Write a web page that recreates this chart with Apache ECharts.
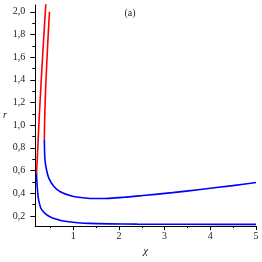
<!DOCTYPE html>
<html>
<head>
<meta charset="utf-8">
<script src="https://cdn.jsdelivr.net/npm/echarts@6/dist/echarts.min.js"></script>
<style>
html,body{margin:0;padding:0;background:#fff;}
#chart{width:262px;height:262px;}
</style>
</head>
<body>
<div id="chart"></div>
<script>
// Tick values
var xMajorTicks = [1, 2, 3, 4, 5];
var xMinorTicks = [0.5, 1.5, 2.5, 3.5, 4.5];
var yMajorTicks = [0.2, 0.4, 0.6, 0.8, 1.0, 1.2, 1.4, 1.6, 1.8, 2.0];
var yMinorTicks = [0.3, 0.5, 0.7, 0.9, 1.1, 1.3, 1.5, 1.7, 1.9];

// Curves (chi, r)
var redLeftX = [0.197, 0.22, 0.242, 0.28, 0.32, 0.36, 0.40, 0.41];
var redLeftY = [0.575, 0.76, 0.953, 1.25, 1.536, 1.81, 2.06, 2.12];

var redRightX = [0.368, 0.371, 0.38, 0.397, 0.42, 0.45, 0.481];
var redRightY = [0.874, 0.97, 1.12, 1.33, 1.536, 1.78, 2.0];

var blueUpperX = [0.368, 0.38, 0.41, 0.466, 0.573, 0.716, 0.966, 1.32, 1.6, 2.1, 2.53, 3.17, 3.78, 4.49, 5.0];
var blueUpperY = [0.874, 0.703, 0.618, 0.533, 0.461, 0.413, 0.376, 0.356, 0.353, 0.364, 0.38, 0.405, 0.433, 0.467, 0.495];

var blueLowerX = [0.197, 0.205, 0.218, 0.235, 0.26, 0.29, 0.33, 0.40, 0.5, 0.6, 0.75, 0.9, 1.1, 1.35, 1.8, 2.4, 3.5, 5.0];
var blueLowerY = [0.575, 0.50, 0.43, 0.36, 0.31, 0.27, 0.245, 0.215, 0.19, 0.174, 0.158, 0.148, 0.140, 0.134, 0.130, 0.127, 0.126, 0.125];

function pairs(xs, ys) { return xs.map(function (x, i) { return [x, ys[i]]; }); }

var font = "'Liberation Serif', 'Times New Roman', serif";
var chart = echarts.init(document.getElementById('chart'));
var lineSeries = function (name, xs, ys, color) {
  return {
    name: name, type: 'line', data: pairs(xs, ys), smooth: 0.25, showSymbol: false, symbol: 'none',
    lineStyle: { color: color, width: 1.6 }, clip: true, animation: false
  };
};
chart.setOption({
  animation: false,
  grid: { left: 30, right: 6, top: 5, bottom: 28.3 },
  xAxis: [{
    type: 'value', min: 0.17, max: 5,
    name: 'χ', nameLocation: 'middle', nameGap: 15,
    nameTextStyle: { fontFamily: font, fontStyle: 'italic', fontSize: 11, color: '#222' },
    axisLine: { lineStyle: { color: '#000', width: 1 } },
    axisTick: { show: true, customValues: xMajorTicks, length: 4, lineStyle: { color: '#000' } },
    axisLabel: { customValues: xMajorTicks, margin: 5, fontFamily: font, fontSize: 10, color: '#222', formatter: function (v) { return String(v); } },
    splitLine: { show: false }
  }, {
    type: 'value', min: 0.17, max: 5, position: 'bottom',
    axisLine: { show: false },
    axisTick: { show: true, customValues: xMinorTicks, length: 2, lineStyle: { color: '#000' } },
    axisLabel: { show: false }, splitLine: { show: false }
  }],
  yAxis: [{
    type: 'value', min: 0.11, max: 2.06,
    name: 'r', nameLocation: 'middle', nameGap: 22, nameRotate: 0,
    nameTextStyle: { fontFamily: font, fontStyle: 'italic', fontSize: 10, color: '#222' },
    axisLine: { show: true, lineStyle: { color: '#000', width: 1 } },
    axisTick: { show: true, customValues: yMajorTicks, length: 5, lineStyle: { color: '#000' } },
    axisLabel: { customValues: yMajorTicks, margin: 10, fontFamily: font, fontSize: 10, color: '#222', formatter: function (v) { return v.toFixed(1).replace('.', ','); } },
    splitLine: { show: false }
  }, {
    type: 'value', min: 0.11, max: 2.06, position: 'left',
    axisLine: { show: false },
    axisTick: { show: true, customValues: yMinorTicks, length: 3, lineStyle: { color: '#000' } },
    axisLabel: { show: false }, splitLine: { show: false }
  }],
  graphic: [{
    type: 'text', x: 130, y: 13,
    style: { text: '(a)', fontFamily: font, fontSize: 10, fill: '#222', align: 'center', verticalAlign: 'middle' }
  }],
  series: [
    lineSeries('redLeft', redLeftX, redLeftY, '#ff0000'),
    lineSeries('redRight', redRightX, redRightY, '#ff0000'),
    lineSeries('blueUpper', blueUpperX, blueUpperY, '#0000ff'),
    lineSeries('blueLower', blueLowerX, blueLowerY, '#0000ff')
  ]
});
</script>
</body>
</html>
